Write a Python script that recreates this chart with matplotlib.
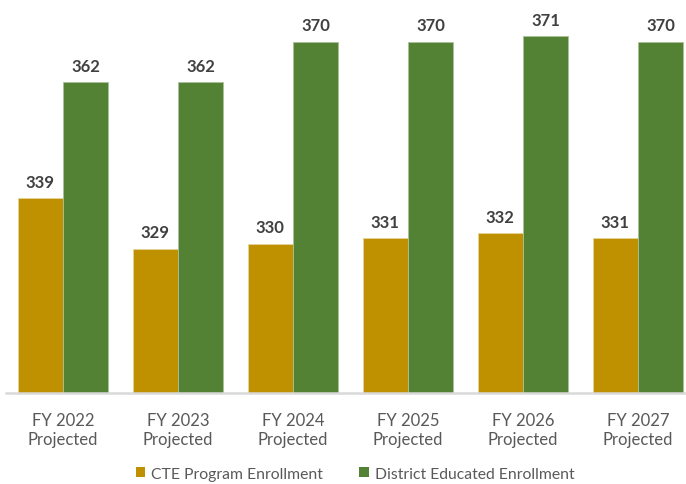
import matplotlib
matplotlib.use("Agg")
import matplotlib.pyplot as plt
import numpy as np
from matplotlib.patches import Patch

categories = ["FY 2022\nProjected", "FY 2023\nProjected", "FY 2024\nProjected",
              "FY 2025\nProjected", "FY 2026\nProjected", "FY 2027\nProjected"]
cte = [339, 329, 330, 331, 332, 331]
district = [362, 362, 370, 370, 371, 370]
series_names = ["CTE Program Enrollment", "District Educated Enrollment"]

c_cte = "#BF9000"
c_dist = "#548235"
plt.rcParams['font.family'] = ['Lato', 'DejaVu Sans']

W, H = 686, 485
fig = plt.figure(figsize=(W / 100, H / 100), dpi=100)
ax = fig.add_axes([5.5 / W, 91 / H, 690 / W, 394 / H])

x = np.arange(len(categories))
bw = 0.395
b1 = ax.bar(x - bw / 2, cte, bw, color=c_cte, edgecolor="#e6d49a", linewidth=0.6)
b2 = ax.bar(x + bw / 2, district, bw, color=c_dist, edgecolor="#a9c19a", linewidth=0.6)

for bars, vals in ((b1, cte), (b2, district)):
    for r, v in zip(bars, vals):
        ax.annotate(f"{v}", (r.get_x() + r.get_width() / 2, v), xytext=(0, 6),
                    textcoords="offset points", ha="center", va="bottom",
                    fontsize=12, fontweight="bold", color="#404040")

ax.set_xlim(-0.5, 5.5)
ax.set_ylim(300.4, 300.4 + 394 / 5.05)
ax.set_xticks(x)
ax.set_xticklabels(categories, fontsize=12, color="#595959", linespacing=1.25)
ax.tick_params(axis="x", length=0, pad=13.5)
ax.set_yticks([])
for s in ("top", "right", "left"):
    ax.spines[s].set_visible(False)
ax.spines["bottom"].set_color("#d9d9d9")
ax.spines["bottom"].set_linewidth(1.8)

handles = [Patch(facecolor=c_cte), Patch(facecolor=c_dist)]
fig.legend(handles, series_names, loc="center", bbox_to_anchor=(355 / W, 10 / H),
           ncol=2, frameon=False, fontsize=11.3, labelcolor="#595959",
           handlelength=0.6, handleheight=0.6, handletextpad=0.4, columnspacing=2.3,
           borderpad=0.2)

fig.savefig("out.png", dpi=100)
